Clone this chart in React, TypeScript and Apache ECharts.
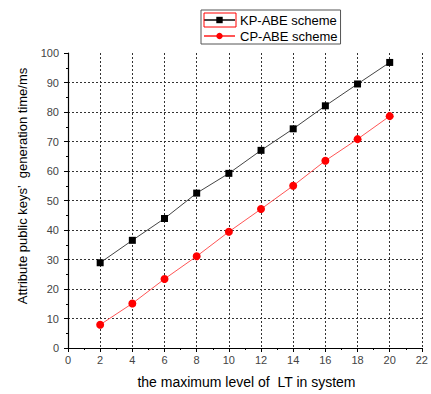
import React, { useEffect, useRef } from "react";
import * as echarts from "echarts";

const levels = [2, 4, 6, 8, 10, 12, 14, 16, 18, 20];
const kpAbe = [28.9, 36.5, 43.9, 52.5, 59.2, 67.0, 74.3, 82.1, 89.5, 96.8];
const cpAbe = [7.9, 15.1, 23.4, 31.1, 39.4, 47.1, 55.0, 63.5, 70.8, 78.6];
const seriesNames = ["KP-ABE scheme", "CP-ABE scheme"];
const xTitle = "the maximum level of  LT in system";
const yTitle = "Attribute public keys\u2019  generation time/ms";

const FONT = "Arial, 'Liberation Sans', sans-serif";

export default function App() {
  const ref = useRef<HTMLDivElement>(null);
  useEffect(() => {
    if (!ref.current) return;
    const chart = echarts.init(ref.current, null, { renderer: "svg" });
    const gridLine = { show: true, lineStyle: { color: "#333", width: 1, type: [2, 2] as any } };
    const axisCommon = {
      type: "value" as const,
      axisLine: { show: true, onZero: false, lineStyle: { color: "#000", width: 1.2 } },
      axisTick: { show: true, inside: false, length: 4, lineStyle: { color: "#000", width: 1 } },
      minorTick: { show: true, splitNumber: 2, length: 2, lineStyle: { color: "#000", width: 1 } },
      axisLabel: { color: "#444", fontSize: 11, fontFamily: FONT },
    };
    chart.setOption({
      animation: false,
      backgroundColor: "#fff",
      textStyle: { fontFamily: FONT },
      grid: { left: 68, right: 2, top: 53, bottom: 45, containLabel: false },
      legend: {
        orient: "vertical",
        left: 201,
        top: 10,
        padding: [3, 3, 1, 2],
        itemGap: 2,
        itemWidth: 31,
        itemHeight: 8,
        borderColor: "#555",
        borderWidth: 1,
        backgroundColor: "#fff",
        textStyle: { fontSize: 13, lineHeight: 14, color: "#000", fontFamily: FONT },
        data: seriesNames,
      },
      xAxis: {
        ...axisCommon,
        min: 0,
        max: 22,
        interval: 2,
        axisLabel: { ...axisCommon.axisLabel, margin: 6 },
        splitLine: { ...gridLine, showMinLine: false, showMaxLine: true },
        name: xTitle,
        nameLocation: "middle",
        nameGap: 27,
        nameTextStyle: { fontSize: 14, color: "#000", fontFamily: FONT, padding: [0, 0, 0, 3] },
      },
      yAxis: {
        ...axisCommon,
        min: 0,
        max: 100,
        interval: 10,
        axisLabel: { ...axisCommon.axisLabel, margin: 9 },
        splitLine: { ...gridLine, showMinLine: false, showMaxLine: false },
      },
      graphic: [
        {
          type: "text",
          x: 22,
          y: 186,
          rotation: Math.PI / 2,
          style: {
            text: yTitle,
            fill: "#000",
            font: `13px ${FONT}`,
            align: "center",
            verticalAlign: "middle",
          },
        },
        {
          type: "rect",
          shape: { x: 204, y: 13, width: 32, height: 14 },
          style: { fill: "none", stroke: "#ff0000", lineWidth: 1 },
          z: 100,
        },
      ],
      series: [
        {
          name: seriesNames[0],
          type: "line",
          data: levels.map((x, i) => [x, kpAbe[i]]),
          symbol: "rect",
          symbolSize: 7,
          itemStyle: { color: "#000" },
          lineStyle: { color: "#444", width: 1 },
        },
        {
          name: seriesNames[1],
          type: "line",
          data: levels.map((x, i) => [x, cpAbe[i]]),
          symbol: "circle",
          symbolSize: 8,
          itemStyle: { color: "#ff0000" },
          lineStyle: { color: "#ff5555", width: 1 },
        },
      ],
    });
    return () => chart.dispose();
  }, []);
  return (
    <div
      ref={ref}
      style={{ position: "absolute", left: 0, top: 0, width: 431, height: 394 }}
    />
  );
}
